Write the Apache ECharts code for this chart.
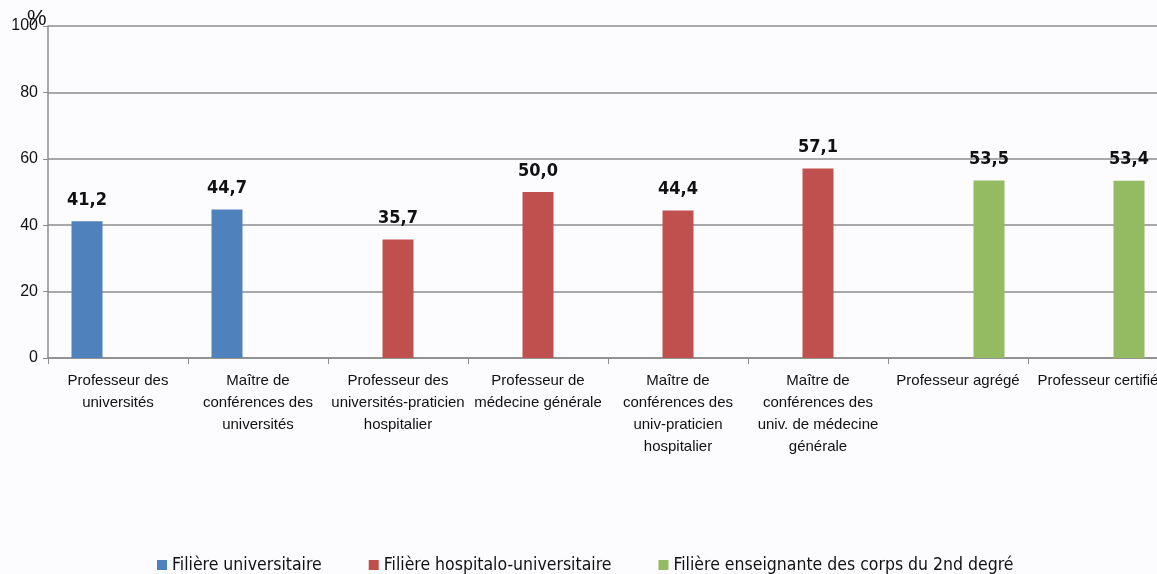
<!DOCTYPE html>
<html><head><meta charset="utf-8">
<script src="https://cdn.jsdelivr.net/npm/echarts@6/dist/echarts.min.js"></script>
<style>html,body{margin:0;padding:0;background:#fcfcfe;}#c{width:1157px;height:574px;}</style>
</head><body><div id="c"></div>
<script>
const categories = [
  "Professeur des\nuniversités",
  "Maître de\nconférences des\nuniversités",
  "Professeur des\nuniversités-praticien\nhospitalier",
  "Professeur de\nmédecine générale",
  "Maître de\nconférences des\nuniv-praticien\nhospitalier",
  "Maître de\nconférences des\nuniv. de médecine\ngénérale",
  "Professeur agrégé",
  "Professeur certifié"
];
const seriesNames = ["Filière universitaire", "Filière hospitalo-universitaire", "Filière enseignante des corps du 2nd degré"];
const universitaire = [41.2, 44.7, null, null, null, null, null, null];
const hospitalo = [null, null, 35.7, 50.0, 44.4, 57.1, null, null];
const enseignante = [null, null, null, null, null, null, 53.5, 53.4];
const unitLabel = '%';
const colors = ["#4F81BD", "#C0504D", "#94BA62"];
const narrow = "'Liberation Sans Narrow', 'DejaVu Sans Condensed', 'Open Sans', sans-serif";
const arial = "'Liberation Sans', Arial, sans-serif";

function mk(name, data, color) {
  return {
    name: name, type: 'bar', data: data, barWidth: 31, barGap: '0%',
    itemStyle: { color: color },
    label: {
      show: true, position: 'top', distance: 12,
      fontFamily: narrow, fontWeight: 'bold', fontSize: 18, color: '#111',
      formatter: p => p.value == null ? '' : Number(p.value).toFixed(1).replace('.', ',')
    }
  };
}
const chart = echarts.init(document.getElementById('c'));
chart.setOption({
  backgroundColor: '#fcfcfe',
  animation: false,
  title: { text: unitLabel, left: 27, top: 8, padding: 0,
    textStyle: { fontFamily: arial, fontSize: 22, fontWeight: 'normal', color: '#111' } },
  grid: { left: 48, top: 26, width: 1120, height: 332, containLabel: false, outerBoundsMode: 'none' },
  legend: {
    bottom: -5, left: 152, itemWidth: 10, itemHeight: 10, itemGap: 47,
    icon: 'rect',
    textStyle: { fontFamily: narrow, fontSize: 17.5, color: '#111' },
    data: seriesNames
  },
  xAxis: {
    type: 'category', data: categories,
    axisLine: { lineStyle: { color: '#8c8c8c', width: 1.5 } },
    axisTick: { show: true, length: 6, lineStyle: { color: '#8c8c8c' } },
    axisLabel: { interval: 0, fontFamily: arial, fontSize: 15, lineHeight: 22, color: '#111', margin: 12 }
  },
  yAxis: {
    type: 'value', min: 0, max: 100, interval: 20,
    axisLine: { show: true, lineStyle: { color: '#8c8c8c', width: 1.5 } },
    axisTick: { show: true, length: 5, lineStyle: { color: '#8c8c8c' } },
    axisLabel: { fontFamily: arial, fontSize: 16, color: '#111', margin: 10 },
    splitLine: { lineStyle: { color: '#8c8c8c', width: 1.5 } }
  },
  series: [mk(seriesNames[0], universitaire, colors[0]), mk(seriesNames[1], hospitalo, colors[1]), mk(seriesNames[2], enseignante, colors[2])]
});
</script></body></html>
